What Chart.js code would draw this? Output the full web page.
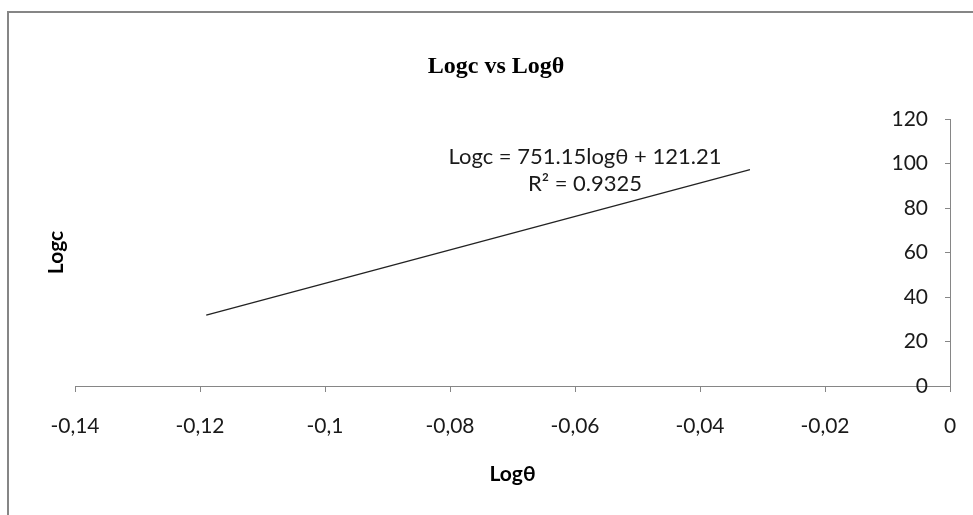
<!DOCTYPE html>
<html>
<head>
<meta charset="utf-8">
<title>Logc vs Logθ</title>
<script src="https://cdn.jsdelivr.net/npm/chart.js@4.4.1/dist/chart.umd.min.js"></script>
<style>
    html, body { margin: 0; padding: 0; background: #fff; }
    canvas { display: block; }
</style>
</head>
<body>
<canvas id="chart" width="973" height="515"></canvas>
<script>
// Trend line end points
const trendX = [-0.119, -0.032];
const trendY = [31.8, 97.2];

// Axis ranges / steps
const xMin = -0.14, xMax = 0, xStep = 0.02;
const yMin = 0, yMax = 120, yStep = 20;

const chartTitle = 'Logc vs Logθ';
const xTitle = 'Logθ';
const yTitle = 'Logc';
const equationLines = ['Logc = 751.15logθ + 121.21', 'R² = 0.9325'];
const equationAt = { x: -0.0584, y: 103 };

const axisGrey = '#868686';
const textColor = '#1a1a1a';
const sansFont = 'Lato, "Open Sans", sans-serif';

// frame + title + trendline label (Excel style)
const decorPlugin = {
    id: 'decor',
    beforeDraw(chart) {
        const ctx = chart.ctx;
        ctx.save();
        ctx.strokeStyle = axisGrey;
        ctx.lineWidth = 2;
        ctx.strokeRect(8, 12, 1100, 700);
        ctx.restore();
    },
    afterDraw(chart) {
        const ctx = chart.ctx;
        const xs = chart.scales.x, ys = chart.scales.y;
        ctx.save();
        ctx.fillStyle = '#000';
        ctx.textAlign = 'center';
        ctx.textBaseline = 'middle';
        ctx.font = 'bold 24px "Liberation Serif", "Times New Roman", serif';
        ctx.fillText(chartTitle, 496, 67);

        ctx.fillStyle = textColor;
        ctx.font = '22px ' + sansFont;
        const cx = xs.getPixelForValue(equationAt.x);
        const cy = ys.getPixelForValue(equationAt.y);
        ctx.fillText(equationLines[0], cx, cy);
        ctx.fillText(equationLines[1], cx, cy + 27);
        ctx.restore();
    }
};

const ctx = document.getElementById('chart').getContext('2d');

new Chart(ctx, {
    type: 'scatter',
    data: {
        datasets: [{
            label: 'trend',
            data: trendX.map((x, i) => ({ x: x, y: trendY[i] })),
            showLine: true,
            borderColor: '#222',
            borderWidth: 1.3,
            pointRadius: 0,
            fill: false
        }]
    },
    options: {
        responsive: false,
        animation: false,
        layout: {
            padding: { top: 119, right: 23, bottom: 0, left: 0 }
        },
        plugins: {
            legend: { display: false },
            title: { display: false },
            tooltip: { enabled: false }
        },
        scales: {
            x: {
                type: 'linear',
                position: 'bottom',
                min: xMin,
                max: xMax,
                ticks: {
                    stepSize: xStep,
                    padding: 22,
                    color: textColor,
                    font: { family: sansFont, size: 21 },
                    callback: v => Number(v.toFixed(2)).toString().replace('.', ',')
                },
                grid: {
                    drawOnChartArea: false,
                    drawTicks: true,
                    tickLength: 6,
                    color: axisGrey
                },
                border: { color: axisGrey, width: 1 },
                title: {
                    display: true,
                    text: xTitle,
                    color: '#000',
                    font: { family: sansFont, size: 21, weight: 'bold' },
                    padding: { top: 0, bottom: 28 }
                },
                afterFit: s => {
                    s.height = 129;
                    s.paddingRight = 0;
                }
            },
            y: {
                type: 'linear',
                position: 'right',
                min: yMin,
                max: yMax,
                ticks: {
                    stepSize: yStep,
                    mirror: true,
                    padding: -22,
                    color: textColor,
                    font: { family: sansFont, size: 21 }
                },
                grid: {
                    drawOnChartArea: false,
                    drawTicks: true,
                    tickLength: -5,
                    color: axisGrey
                },
                border: { color: axisGrey, width: 1 },
                afterFit: s => { s.width = 0; }
            },
            yTitleAxis: {
                type: 'linear',
                axis: 'y',
                position: 'left',
                ticks: { display: false },
                grid: { display: false },
                border: { display: false },
                title: {
                    display: true,
                    text: yTitle,
                    color: '#000',
                    font: { family: sansFont, size: 21, weight: 'bold' },
                    padding: { top: 44, bottom: 0 }
                },
                afterFit: s => { s.width = 75; }
            }
        }
    },
    plugins: [decorPlugin]
});
</script>
</body>
</html>
